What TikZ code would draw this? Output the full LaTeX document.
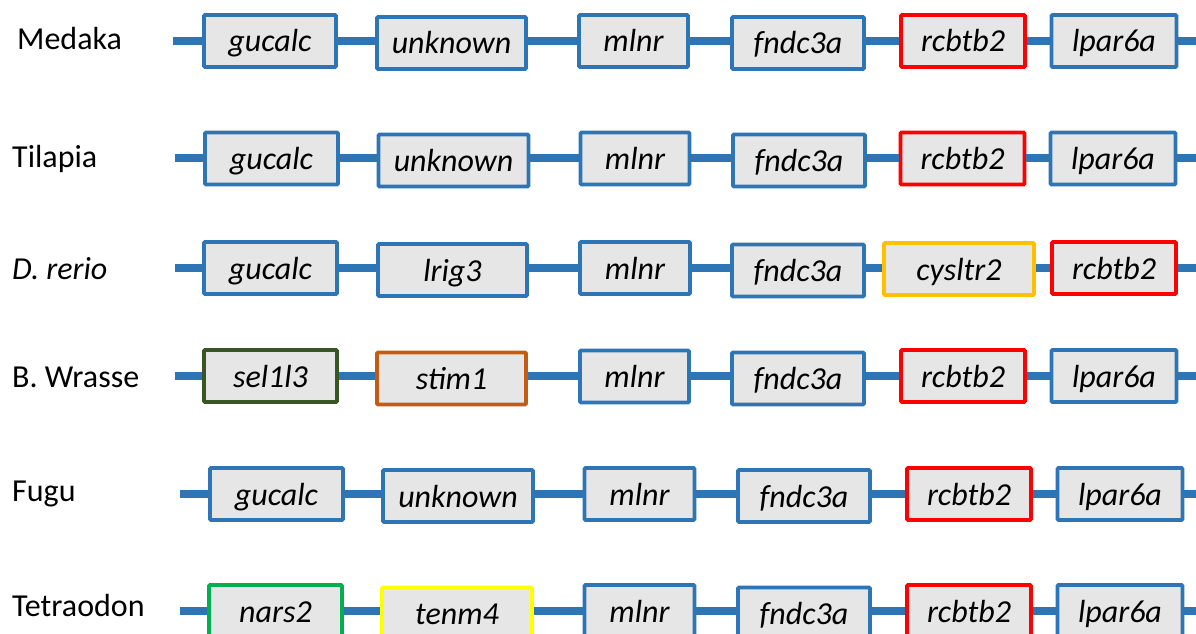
\documentclass[tikz,border=0pt]{standalone}
\usepackage{fontspec}
\setmainfont{Carlito}
\definecolor{cblue}{HTML}{2E75B6}
\definecolor{cgray}{HTML}{E7E6E6}
\definecolor{cred}{HTML}{FF0000}
\definecolor{camber}{HTML}{FFC000}
\definecolor{cdkgreen}{HTML}{375623}
\definecolor{corange}{HTML}{C55A11}
\definecolor{cgreen}{HTML}{00B050}
\definecolor{cyellow}{HTML}{FFFF00}
\tikzset{
  gene/.style={draw=cblue, fill=cgray, line width=3.8pt, rectangle, rounded corners=1pt,
    inner sep=0pt, text height=27pt, text depth=5pt, minimum height=52pt,
    font=\fontsize{32}{38}\selectfont\itshape},
  conn/.style={draw=cblue, line width=8pt},
  species/.style={anchor=base west, inner sep=0pt, font=\fontsize{32}{38}\selectfont},
}
\newcommand{\gbox}[5][]{\node[gene,#1,minimum width=#4-4pt] (#2) at (#3) {#5};}
\begin{document}
\begin{tikzpicture}[x=1pt,y=-1pt]
\useasboundingbox (0,0) rectangle (1196,634);
\clip (0,0) rectangle (1196,634);
% ---------- Row 1: Medaka
\node[species] (l1) at (17,50) {Medaka};
\coordinate (s1) at (173,41);
\coordinate (e1) at (1200,41);
\gbox{m1}{270,41}{136}{gucalc}
\gbox{m2}{451.5,43}{153}{unknown}
\gbox{m3}{633.5,41}{113}{mlnr}
\gbox{m4}{798,43}{136}{fndc3a}
\gbox[draw=cred]{m5}{963,41}{128}{rcbtb2}
\gbox{m6}{1114,41}{129}{lpar6a}
\draw[conn] (s1) -- (m1.west |- s1);
\draw[conn] (m1.east |- s1) -- (m2.west |- s1);
\draw[conn] (m2.east |- s1) -- (m3.west |- s1);
\draw[conn] (m3.east |- s1) -- (m4.west |- s1);
\draw[conn] (m4.east |- s1) -- (m5.west |- s1);
\draw[conn] (m5.east |- s1) -- (m6.west |- s1);
\draw[conn] (m6.east |- s1) -- (e1);
% ---------- Row 2: Tilapia
\node[species] (l2) at (12,167) {Tilapia};
\coordinate (s2) at (175,158);
\coordinate (e2) at (1200,158);
\gbox{t1}{271.5,158.5}{137}{gucalc}
\gbox{t2}{453.5,160.5}{154}{unknown}
\gbox{t3}{635,158.5}{113}{mlnr}
\gbox{t4}{799,160.5}{136}{fndc3a}
\gbox[draw=cred]{t5}{962.5,158.5}{128}{rcbtb2}
\gbox{t6}{1113,158.5}{129}{lpar6a}
\draw[conn] (s2) -- (t1.west |- s2);
\draw[conn] (t1.east |- s2) -- (t2.west |- s2);
\draw[conn] (t2.east |- s2) -- (t3.west |- s2);
\draw[conn] (t3.east |- s2) -- (t4.west |- s2);
\draw[conn] (t4.east |- s2) -- (t5.west |- s2);
\draw[conn] (t5.east |- s2) -- (t6.west |- s2);
\draw[conn] (t6.east |- s2) -- (e2);
% ---------- Row 3: D. rerio
\node[species,font=\fontsize{32}{38}\selectfont\itshape] (l3) at (12,279) {D. rerio};
\coordinate (s3) at (175,268);
\coordinate (e3) at (1200,268);
\gbox{d1}{270.5,268}{137}{gucalc}
\gbox{d2}{452.5,270}{153}{lrig3}
\gbox{d3}{635,268}{114}{mlnr}
\gbox{d4}{798,270.5}{136}{fndc3a}
\gbox[draw=camber]{d5}{959,269}{154}{cysltr2}
\gbox[draw=cred]{d6}{1114,268}{128}{rcbtb2}
\draw[conn] (s3) -- (d1.west |- s3);
\draw[conn] (d1.east |- s3) -- (d2.west |- s3);
\draw[conn] (d2.east |- s3) -- (d3.west |- s3);
\draw[conn] (d3.east |- s3) -- (d4.west |- s3);
\draw[conn] (d4.east |- s3) -- (d5.west |- s3);
\draw[conn] (d5.east |- s3) -- (d6.west |- s3);
\draw[conn] (d6.east |- s3) -- (e3);
% ---------- Row 4: B. Wrasse
\node[species] (l4) at (12,387) {B. Wrasse};
\coordinate (s4) at (175,376);
\coordinate (e4) at (1200,376);
\gbox[draw=cdkgreen]{w1}{270.5,376}{137}{sel1l3}
\gbox[draw=corange]{w2}{451.5,378.5}{153}{stim1}
\gbox{w3}{634.5,376.5}{113}{mlnr}
\gbox{w4}{798,378.5}{136}{fndc3a}
\gbox[draw=cred]{w5}{963,376}{128}{rcbtb2}
\gbox{w6}{1114,376}{129}{lpar6a}
\draw[conn] (s4) -- (w1.west |- s4);
\draw[conn] (w1.east |- s4) -- (w2.west |- s4);
\draw[conn] (w2.east |- s4) -- (w3.west |- s4);
\draw[conn] (w3.east |- s4) -- (w4.west |- s4);
\draw[conn] (w4.east |- s4) -- (w5.west |- s4);
\draw[conn] (w5.east |- s4) -- (w6.west |- s4);
\draw[conn] (w6.east |- s4) -- (e4);
% ---------- Row 5: Fugu
\node[species] (l5) at (12,501) {Fugu};
\coordinate (s5) at (180,493.5);
\coordinate (e5) at (1200,493.5);
\gbox{f1}{276.5,494}{137}{gucalc}
\gbox{f2}{458,496}{154}{unknown}
\gbox{f3}{639.5,494}{114}{mlnr}
\gbox{f4}{804,496}{136}{fndc3a}
\gbox[draw=cred]{f5}{969,494}{128}{rcbtb2}
\gbox{f6}{1120,494}{129}{lpar6a}
\draw[conn] (s5) -- (f1.west |- s5);
\draw[conn] (f1.east |- s5) -- (f2.west |- s5);
\draw[conn] (f2.east |- s5) -- (f3.west |- s5);
\draw[conn] (f3.east |- s5) -- (f4.west |- s5);
\draw[conn] (f4.east |- s5) -- (f5.west |- s5);
\draw[conn] (f5.east |- s5) -- (f6.west |- s5);
\draw[conn] (f6.east |- s5) -- (e5);
% ---------- Row 6: Tetraodon
\node[species] (l6) at (12,616) {Tetraodon};
\coordinate (s6) at (180,611);
\coordinate (e6) at (1200,611);
\gbox[draw=cgreen]{x1}{275.5,611}{137}{nars2}
\gbox[draw=cyellow]{x2}{457,613.5}{154}{tenm4}
\gbox{x3}{639.5,611}{114}{mlnr}
\gbox{x4}{804,613.5}{136}{fndc3a}
\gbox[draw=cred]{x5}{969,611}{128}{rcbtb2}
\gbox{x6}{1120,611}{129}{lpar6a}
\draw[conn] (s6) -- (x1.west |- s6);
\draw[conn] (x1.east |- s6) -- (x2.west |- s6);
\draw[conn] (x2.east |- s6) -- (x3.west |- s6);
\draw[conn] (x3.east |- s6) -- (x4.west |- s6);
\draw[conn] (x4.east |- s6) -- (x5.west |- s6);
\draw[conn] (x5.east |- s6) -- (x6.west |- s6);
\draw[conn] (x6.east |- s6) -- (e6);
\end{tikzpicture}
\end{document}
